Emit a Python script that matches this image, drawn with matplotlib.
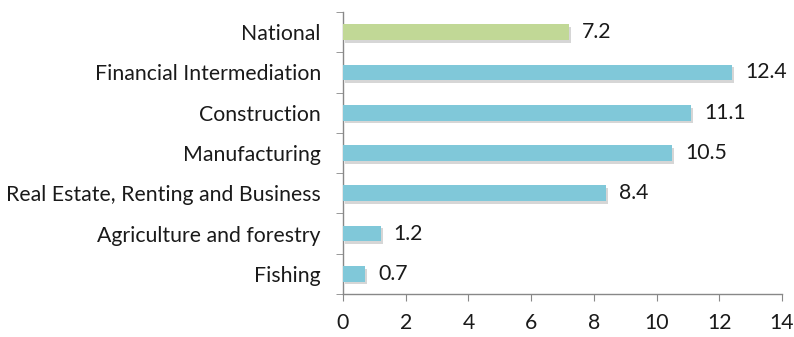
import numpy as np
import matplotlib
matplotlib.use("Agg")
import matplotlib.pyplot as plt
import matplotlib.patheffects as pe

categories = ['National', 'Financial Intermediation', 'Construction', 'Manufacturing',
              'Real Estate, Renting and Business', 'Agriculture and forestry', 'Fishing']
values = [7.2, 12.4, 11.1, 10.5, 8.4, 1.2, 0.7]
value_labels = ['7.2', '12.4', '11.1', '10.5', '8.4', '1.2', '0.7']
x_ticks = [0, 2, 4, 6, 8, 10, 12, 14]

plt.rcParams['font.family'] = ['Lato', 'DejaVu Sans']

blue = '#80c8d9'
green = '#c1d896'
colors = [green] + [blue] * (len(categories) - 1)
txt = '#1a1a1a'
fs = 15.3

fig = plt.figure(figsize=(7.94, 3.37), dpi=100)
ax = fig.add_axes([343 / 794, 43 / 337, 439 / 794, 282 / 337])

y = np.arange(len(categories))[::-1]
# soft drop shadow under each bar
shadow = [pe.SimplePatchShadow(offset=(1.5, -2.0), shadow_rgbFace='#8a8a8a', alpha=0.35), pe.Normal()]
bars = ax.barh(y, values, height=0.39, color=colors, edgecolor='none', zorder=3)
for b in bars:
    b.set_path_effects(shadow)

for yi, v, lab in zip(y, values, value_labels):
    ax.annotate(lab, (v, yi), xytext=(13, 0), textcoords='offset pixels',
                va='center', ha='left', fontsize=fs, color=txt)

ax.set_xlim(0, 14)
ax.set_ylim(-0.5, len(categories) - 0.5)
ax.set_xticks(x_ticks)
ax.set_xticklabels([str(t) for t in x_ticks], fontsize=fs, color=txt)

# category labels centred on bars, ticks on the boundaries between them
ax.set_yticks(y)
ax.set_yticklabels(categories, fontsize=fs, color=txt)
ax.tick_params(axis='y', which='major', length=0, pad=16)
ax.set_yticks(np.arange(-0.5, len(categories), 1.0), minor=True)
ax.tick_params(axis='y', which='minor', length=5, color='#888888', direction='out')
ax.tick_params(axis='x', length=5, color='#888888', direction='out', pad=9)

for side in ['top', 'right']:
    ax.spines[side].set_visible(False)
for side in ['left', 'bottom']:
    ax.spines[side].set_color('#888888')
    ax.spines[side].set_linewidth(1.0)

fig.savefig('out.png', dpi=100, facecolor='white')
